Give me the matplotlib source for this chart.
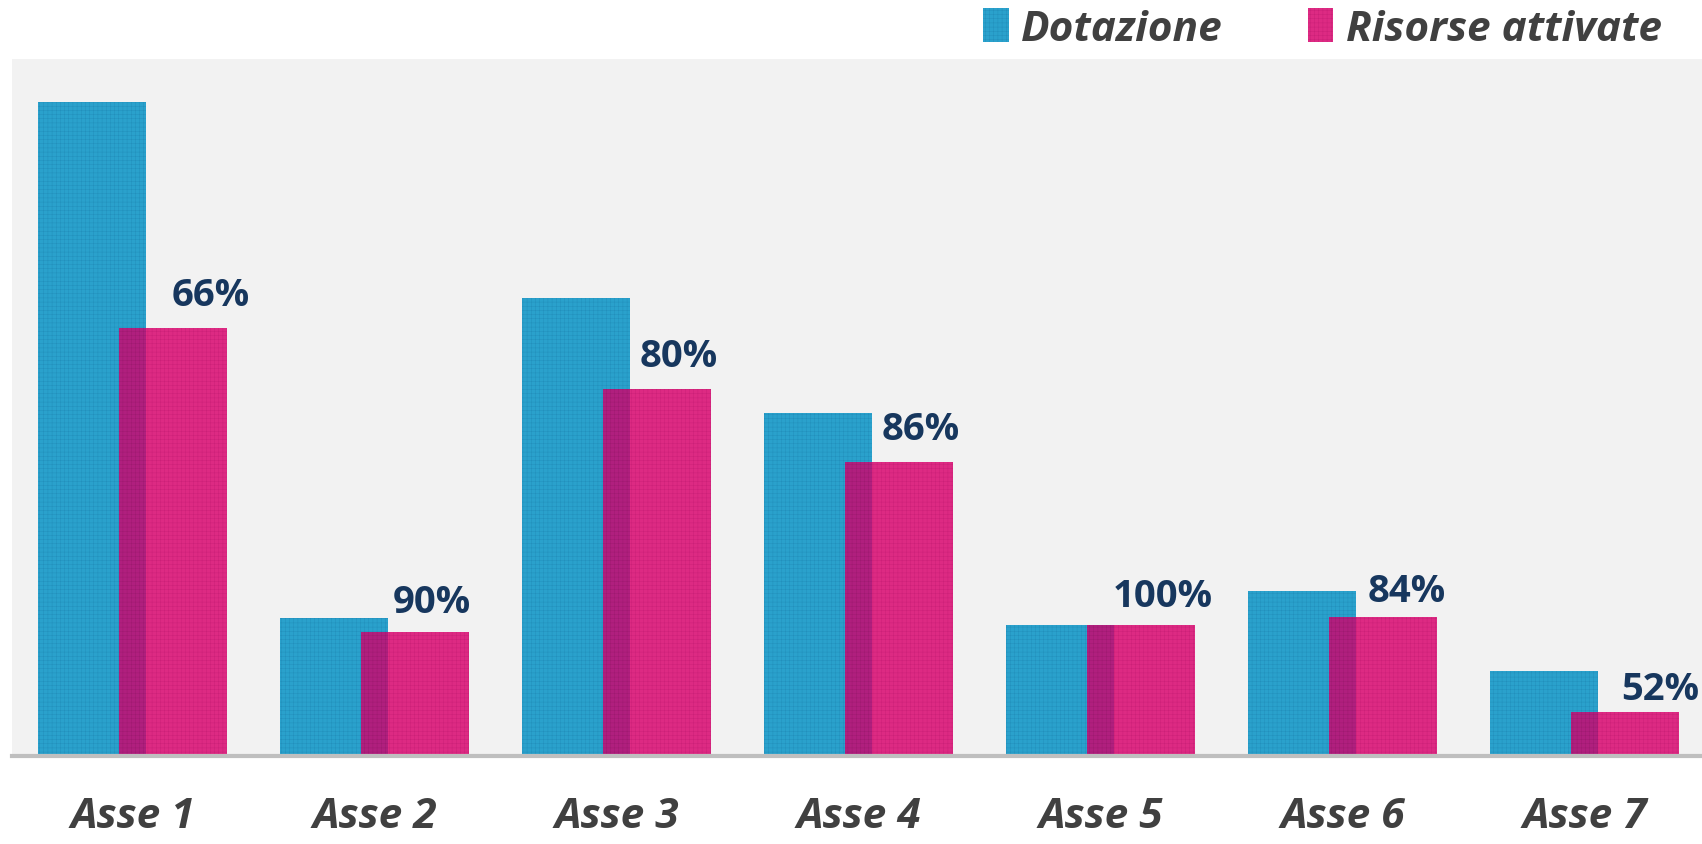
import matplotlib
matplotlib.use("Agg")
import matplotlib.pyplot as plt
from matplotlib.patches import Patch
import numpy as np

categories = ["Asse 1", "Asse 2", "Asse 3", "Asse 4", "Asse 5", "Asse 6", "Asse 7"]
dotazione = [327, 69, 229, 171.5, 65.5, 82.5, 42.5]
risorse_attivate = [214, 62, 183.5, 147, 65.5, 69.5, 22]
pct_labels = ["66%", "90%", "80%", "86%", "100%", "84%", "52%"]
series_names = ["Dotazione", "Risorse attivate"]

# label nudges (points), style only
label_dx = [10, -5, -2, -2, -2, 0, 8]
label_dy = [10, 8, 10, 10, 7, 5, 3]

BLUE = "#2AA1CC"
PINK = "#DD2A83"
OVERLAP = "#B01F7E"
NAVY = "#17375E"
GREY_TXT = "#404040"

plt.rcParams['hatch.linewidth'] = 0.35

W, H = 1702, 845
fig = plt.figure(figsize=(W / 100, H / 100), dpi=100)
fig.patch.set_facecolor("white")
ax = fig.add_axes([12 / W, 1 - 757 / H, (W - 12) / W, (757 - 60) / H])
ax.set_facecolor("#F2F2F2")

x = np.arange(len(categories))
w = 0.446
d = 0.167

ax.bar(x - d, dotazione, w, color=BLUE, edgecolor="#2290BC", linewidth=0,
       hatch="++++", zorder=2)
ax.bar(x + d, risorse_attivate, w, color=PINK, edgecolor="#CC2078", linewidth=0,
       hatch="++++", zorder=3)
overlap_h = np.minimum(dotazione, risorse_attivate)
ax.bar(x, overlap_h, w - 2 * d, color=OVERLAP, edgecolor="#9E1A70", linewidth=0,
       hatch="++++", zorder=4)

for xi, h, lab, dx, dy in zip(x, risorse_attivate, pct_labels, label_dx, label_dy):
    ax.annotate(lab, (xi + d + 0.1, h), xytext=(dx, dy), textcoords="offset points",
                ha="center", va="bottom", fontsize=27.5, fontweight="bold",
                color=NAVY, family="Open Sans", zorder=5)

ax.axhline(0, color="#BFBFBF", lw=3, zorder=6, clip_on=False)

ax.set_xlim((12 - 132.5) / 242, (1702 - 132.5) / 242)
ax.set_ylim(0, 348.5)
ax.set_yticks([])
ax.set_xticks(x)
ax.set_xticklabels(categories, fontsize=30.5, fontweight="bold", fontstyle="italic",
                   color=GREY_TXT, family="Open Sans")
ax.tick_params(axis="x", length=0, pad=29)
for s in ax.spines.values():
    s.set_visible(False)

handles = [Patch(facecolor=BLUE, edgecolor="#2290BC", linewidth=0, hatch="++++"),
           Patch(facecolor=PINK, edgecolor="#CC2078", linewidth=0, hatch="++++")]
leg = fig.legend(handles, series_names, loc="center right",
                 bbox_to_anchor=(1683 / W, 1 - 30 / H), ncol=2, frameon=False,
                 handlelength=0.6, handleheight=0.85, handletextpad=0.3,
                 columnspacing=2.0, borderpad=0,
                 prop={"family": "Open Sans", "size": 30.5, "weight": "bold",
                       "style": "italic"})
for t in leg.get_texts():
    t.set_color(GREY_TXT)

fig.savefig("out.png", dpi=100)
